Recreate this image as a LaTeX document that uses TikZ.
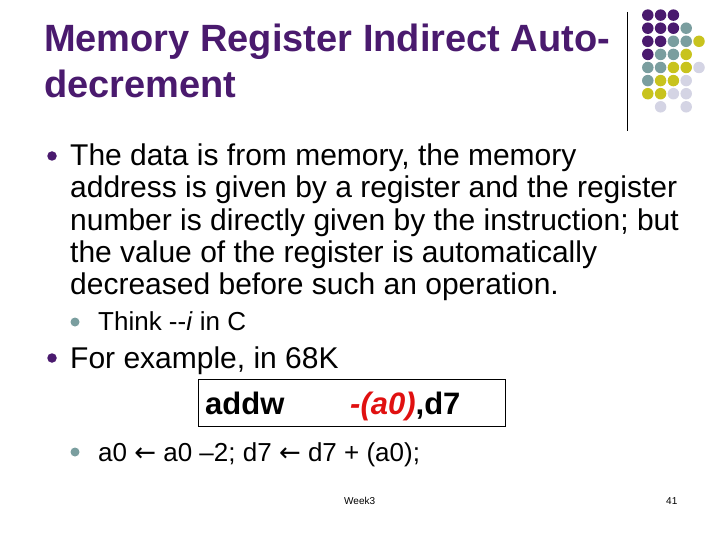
\documentclass[tikz,border=0pt]{standalone}
\usepackage{fontspec}
\setmainfont{Liberation Sans}
\newfontfamily\arrfont{DejaVu Sans}
\definecolor{pur}{HTML}{4A1A6E}
\definecolor{teal}{HTML}{7A9E9F}
\definecolor{yel}{HTML}{C8C31E}
\definecolor{lav}{HTML}{D4D4E4}
\definecolor{redc}{HTML}{E01010}
\begin{document}
\begin{tikzpicture}[x=1pt,y=-1pt,
  txt/.style={anchor=base west,inner sep=0pt,font=\fontsize{30}{34}\selectfont},
  small/.style={anchor=base west,inner sep=0pt,font=\fontsize{26}{30}\selectfont},
  ttl/.style={anchor=base west,inner sep=0pt,text=pur,font=\fontsize{38}{42}\selectfont\bfseries},
  dot/.style={circle,fill=#1,inner sep=0pt,minimum size=11.5pt}]
\useasboundingbox (0,0) rectangle (720,540);
\node[ttl] (t1) at (44,52) {Memory Register Indirect Auto-};
\node[ttl] (t2) at (44,98) {decrement};
\draw[line width=0.8pt] (627,12) -- (627,131);
% dot grid
\foreach \r/\row in {1/{pur,pur,pur},2/{pur,pur,pur,teal},3/{pur,pur,teal,teal,yel},4/{pur,teal,teal,yel},5/{teal,teal,yel,yel,lav},6/{teal,yel,yel,lav},7/{yel,yel,lav,lav}}{
  \foreach \c [count=\i] in \row {
    \node[dot=\c] (d\r\i) at ({635+12.8*\i},{2+13.1*\r}) {};
  }
}
\node[dot=lav] (d82) at ({635+12.8*2},{2+13.1*8}) {};
\node[dot=lav] (d84) at ({635+12.8*4},{2+13.1*8}) {};
% bullets
\node[dot=pur,minimum size=9.5pt] (b1) at (52,156) {};
\node[dot=teal,minimum size=9pt] (b2) at (75,322) {};
\node[dot=pur,minimum size=9.5pt] (b3) at (52,358) {};
\node[dot=teal,minimum size=9pt] (b4) at (75,452) {};
\node[txt] (l1) at (70,166) {The data is from memory, the memory};
\node[txt] (l2) at (70,198) {address is given by a register and the register};
\node[txt] (l3) at (70,230) {number is directly given by the instruction; but};
\node[txt] (l4) at (70,262) {the value of the register is automatically};
\node[txt] (l5) at (70,294) {decreased before such an operation.};
\node[small] (s1) at (98,330) {Think -{}-\textit{i} in C};
\node[txt] (l6) at (70,368) {For example, in 68K};
\draw[line width=0.8pt] (198,379) rectangle (505,426);
\node[txt,font=\fontsize{31}{34}\selectfont\bfseries] (c1) at (205,414) {addw};
\node[txt,font=\fontsize{31}{34}\selectfont\bfseries] (c2) at (350,414) {\textcolor{redc}{\textit{-(a0)}},d7};
\node[small] (s2) at (98,461) {a0 {\arrfont ←} a0 –2; d7 {\arrfont ←} d7 + (a0);};
\node[anchor=base west,inner sep=0pt,font=\fontsize{10}{11}\selectfont] (w) at (344,504) {Week3};
\node[anchor=base west,inner sep=0pt,font=\fontsize{10}{11}\selectfont] (n) at (666,504) {41};
\end{tikzpicture}
\end{document}
